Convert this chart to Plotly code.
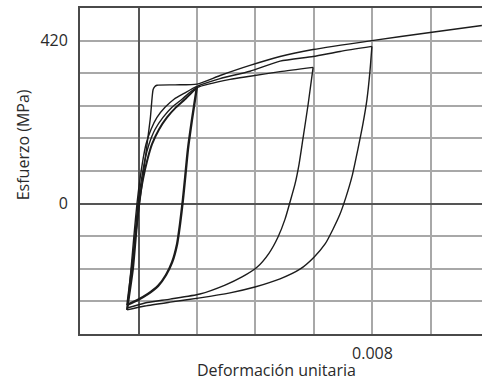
import plotly.graph_objects as go

# Strain (unitless) and stress (MPa) for each branch of the hysteresis plot

# Monotonic curve with yield plateau and strain hardening
env_strain = [-0.00040, 0.00040, 0.00050, 0.00056, 0.00063, 0.00125, 0.00200,
              0.00279, 0.00381, 0.00484, 0.00597, 0.00798, 0.00997, 0.01174]
env_stress = [-262, 217, 294, 302, 305, 306, 308,
              330, 356, 379, 397, 420, 441, 459]

# Cycle to 0.002 (repeated cycles, drawn heavier)
a_up_strain = [-0.00039, -0.00019, -0.000085, 0.000017, 0.000154, 0.000308,
               0.000462, 0.00070, 0.000974, 0.00128, 0.00159, 0.00183, 0.00200]
a_up_stress = [-274, -169, -81, 1, 63, 114, 153, 191, 222, 248, 269, 287, 299]
a_down_strain = [0.00200, 0.00183, 0.00169, 0.00159, 0.00152, 0.00142,
                 0.00132, 0.00115, 0.00094, 0.00067, 0.00032, -0.00002,
                 -0.00039]
a_down_stress = [302, 217, 140, 63, 11, -53, -104, -151, -184, -212, -233,
                 -248, -261]

# Cycle to 0.006
b_up_strain = [-0.00039, -0.00022, -0.00012, -0.000017, 0.000103, 0.000222,
               0.000359, 0.000564, 0.000838, 0.001145, 0.001487, 0.00176,
               0.00200, 0.00313, 0.00381, 0.00484, 0.00597]
b_up_stress = [-274, -169, -81, 1, 63, 114, 153, 191, 222, 248, 269, 287,
               299, 320, 328, 340, 351]
b_down_strain = [0.00597, 0.00580, 0.00562, 0.00549, 0.00535, 0.00518,
                 0.00501, 0.00477, 0.00446, 0.00405, 0.00354, 0.00296,
                 0.00210, 0.00108, 0.00022, -0.00039]
b_down_stress = [351, 256, 166, 102, 50, 4, -40, -86, -128, -164, -189,
                 -210, -233, -246, -256, -269]

# Cycle to 0.008
c_up_strain = [-0.00039, -0.000256, -0.000154, -0.000051, 0.000051, 0.000154,
               0.000256, 0.000427, 0.000632, 0.000906, 0.001214, 0.001556,
               0.00200, 0.00279, 0.00381, 0.00484, 0.00597, 0.00689, 0.00798]
c_up_stress = [-274, -169, -81, 1, 63, 114, 153, 191, 222, 248, 269, 284,
               302, 322, 341, 367, 379, 392, 405]
c_down_strain = [0.00798, 0.00791, 0.00781, 0.00767, 0.00750, 0.00730,
                 0.00709, 0.00689, 0.00665, 0.00638, 0.00600, 0.00552,
                 0.00484, 0.00398, 0.00313, 0.00210, 0.00108, 0.00022,
                 -0.00039]
c_down_stress = [405, 338, 268, 204, 140, 70, 16, -27, -66, -104, -138,
                 -169, -194, -215, -230, -243, -254, -264, -274]

# Axis ticks: grid every 0.002 / 84 MPa, only some labelled
x_ticks = [-0.002, 0.0, 0.002, 0.004, 0.006, 0.008, 0.010]
x_labels = ["", "", "", "", "", "0.008", ""]
y_ticks = [-336, -252, -168, -84, 0, 84, 168, 252, 336, 420, 504]
y_labels = ["", "", "", "", "0", "", "", "", "", "420", ""]

INK = "#1c1c1c"
TEXT = "#2a2a2a"
FONT = "Open Sans"

fig = go.Figure()

branches = [
    (env_strain, env_stress, 1.4),
    (c_up_strain, c_up_stress, 1.4),
    (c_down_strain, c_down_stress, 1.4),
    (b_up_strain, b_up_stress, 1.4),
    (b_down_strain, b_down_stress, 1.4),
    (a_up_strain, a_up_stress, 2.0),
    (a_down_strain, a_down_stress, 2.4),
]
for xs, ys, w in branches:
    fig.add_trace(go.Scatter(
        x=xs, y=ys, mode="lines",
        line=dict(color=INK, width=w, shape="spline", smoothing=0.6),
        showlegend=False, hoverinfo="skip",
    ))

fig.update_xaxes(
    range=[-0.002, 0.011744],
    tickvals=x_ticks, ticktext=x_labels,
    showgrid=True, gridcolor="#a8a8a8", gridwidth=1.5,
    zeroline=True, zerolinecolor="#555555", zerolinewidth=1.6,
    showline=True, linecolor="#4a4a4a", linewidth=1.8, mirror=True,
    ticks="", ticklabelstandoff=4,
    tickfont=dict(family=FONT, size=16, color=TEXT),
)
fig.update_yaxes(
    range=[-336, 504],
    tickvals=y_ticks, ticktext=y_labels,
    showgrid=True, gridcolor="#a8a8a8", gridwidth=1.5,
    zeroline=True, zerolinecolor="#555555", zerolinewidth=1.6,
    showline=True, linecolor="#4a4a4a", linewidth=1.8, mirror=False,
    ticks="", ticklabelstandoff=7,
    tickfont=dict(family=FONT, size=16, color=TEXT),
)

fig.add_annotation(
    text="Deformación unitaria", xref="paper", yref="paper",
    x=(276 - 80) / 402, y=-36 / 326.5, xanchor="center", yanchor="middle",
    showarrow=False, font=dict(family=FONT, size=16, color=TEXT),
)
fig.add_annotation(
    text="Esfuerzo (MPa)", xref="paper", yref="paper",
    x=-57 / 402, y=(334 - 145) / 326.5, xanchor="center", yanchor="middle",
    textangle=-90, showarrow=False,
    font=dict(family=FONT, size=16, color=TEXT),
)

fig.update_layout(
    width=482, height=382,
    margin=dict(l=80, r=0, t=7.5, b=48),
    paper_bgcolor="white", plot_bgcolor="white",
)

fig.write_html("out.html")
